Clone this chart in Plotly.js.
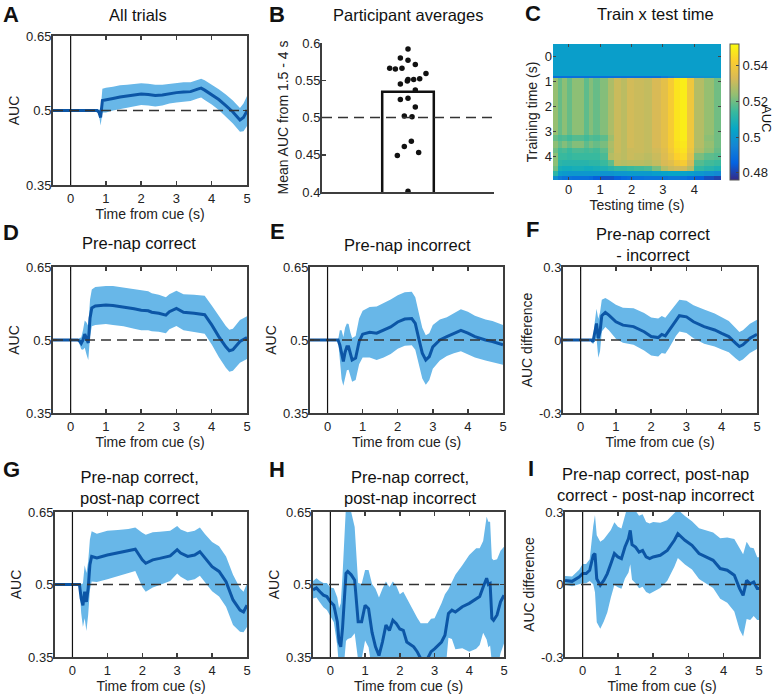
<!DOCTYPE html>
<html><head><meta charset="utf-8">
<script src="https://cdn.plot.ly/plotly-3.0.1.min.js"></script>
<style>html,body{margin:0;padding:0;background:#fff}#chart{width:775px;height:697px}</style>
</head><body><div id="chart"></div>
<script>
// ---------------- DATA ----------------
// Panel A: All trials
const tA = [-0.5,0.75,0.8,0.85,0.9,1.0,1.2,1.4,1.6,1.8,2.0,2.2,2.4,2.6,2.8,3.0,3.2,3.4,3.6,3.7,3.8,4.0,4.2,4.4,4.6,4.8,4.9,5.0];
const mA = [0.5,0.5,0.497,0.486,0.52,0.521,0.524,0.527,0.529,0.531,0.533,0.532,0.53,0.531,0.534,0.536,0.537,0.538,0.543,0.545,0.541,0.532,0.522,0.51,0.497,0.481,0.486,0.499];
const eA = [0,0,0.005,0.016,0.024,0.025,0.024,0.024,0.023,0.023,0.022,0.022,0.022,0.021,0.02,0.02,0.02,0.019,0.019,0.019,0.02,0.02,0.021,0.022,0.023,0.024,0.028,0.03];

// Panel B: participant averages
const barCategory = [1];
const barMean = [0.5345];
const dotX = [1.0,0.911,1.0,1.085,0.787,0.853,0.930,1.209,0.911,0.992,1.0,1.066,1.136,1.085,0.911,1.0,1.085,0.957,1.047,1.039,0.957,0.876,1.124,1.0];
const dotY = [0.592,0.580,0.577,0.571,0.566,0.565,0.566,0.559,0.545,0.549,0.551,0.551,0.552,0.537,0.524,0.526,0.514,0.502,0.501,0.468,0.461,0.449,0.453,0.401];

// Panel C: train x test time (cell edges + rows)
const testEdges = [-0.5,-0.35,-0.2,-0.05,0.12,0.5,0.65,0.77,1.0,1.24,1.45,1.65,1.87,2.08,2.4,2.65,2.93,3.15,3.35,3.55,3.78,4.0,4.3,4.62,4.85];
const trainEdges = [-0.5,0.76,0.86,3.12,3.38,3.65,3.85,4.12,4.38,4.58,4.78,4.92];
const rowPre    = [0.502,0.502,0.502,0.502,0.502,0.502,0.502,0.502,0.502,0.502,0.502,0.502,0.502,0.502,0.502,0.502,0.502,0.502,0.502,0.502,0.502,0.502,0.502,0.502];
const rowEdge   = [0.489,0.489,0.489,0.489,0.489,0.489,0.489,0.489,0.489,0.489,0.489,0.489,0.489,0.489,0.489,0.489,0.492,0.494,0.496,0.497,0.497,0.498,0.499,0.5];
const rowActive = [0.524,0.519,0.523,0.519,0.523,0.518,0.522,0.519,0.522,0.527,0.531,0.529,0.532,0.531,0.530,0.533,0.536,0.541,0.547,0.549,0.539,0.528,0.524,0.520];
const rowT32    = [0.519,0.516,0.517,0.515,0.517,0.515,0.517,0.516,0.518,0.525,0.531,0.529,0.532,0.531,0.530,0.533,0.536,0.541,0.547,0.549,0.539,0.528,0.523,0.520];
const rowT35    = [0.523,0.519,0.522,0.519,0.522,0.518,0.521,0.519,0.521,0.527,0.531,0.529,0.532,0.531,0.530,0.533,0.536,0.541,0.546,0.548,0.539,0.528,0.524,0.520];
const rowT37    = [0.520,0.515,0.516,0.514,0.516,0.515,0.516,0.515,0.518,0.526,0.531,0.529,0.531,0.531,0.530,0.532,0.535,0.540,0.545,0.547,0.538,0.527,0.523,0.519];
const rowT40    = [0.523,0.514,0.514,0.513,0.514,0.514,0.514,0.514,0.516,0.528,0.530,0.529,0.531,0.530,0.529,0.531,0.534,0.538,0.543,0.545,0.536,0.521,0.518,0.517];
const rowT42    = [0.523,0.512,0.511,0.511,0.511,0.511,0.512,0.512,0.514,0.518,0.529,0.528,0.529,0.529,0.528,0.530,0.533,0.535,0.539,0.541,0.533,0.517,0.515,0.514];
const rowT45    = [0.520,0.508,0.507,0.507,0.508,0.507,0.507,0.508,0.509,0.511,0.513,0.513,0.514,0.515,0.516,0.521,0.528,0.531,0.532,0.532,0.528,0.513,0.511,0.509];
const rowT47    = [0.512,0.502,0.501,0.5,0.5,0.5,0.5,0.5,0.499,0.499,0.5,0.5,0.501,0.501,0.501,0.502,0.503,0.504,0.504,0.503,0.502,0.5,0.498,0.496];
const rowT49    = [0.497,0.492,0.49,0.49,0.489,0.489,0.488,0.485,0.483,0.483,0.485,0.487,0.488,0.489,0.49,0.49,0.49,0.491,0.491,0.49,0.488,0.485,0.482,0.48];

// Panel D: pre-nap correct
const tD = [-0.5,0.2,0.25,0.3,0.35,0.4,0.45,0.5,0.55,0.6,0.7,0.8,1.0,1.2,1.5,1.8,2.0,2.2,2.3,2.5,2.7,2.8,3.0,3.2,3.5,3.8,4.0,4.2,4.4,4.5,4.6,4.8,5.0];
const mD = [0.5,0.5,0.498,0.493,0.5,0.512,0.503,0.494,0.545,0.566,0.57,0.571,0.572,0.571,0.568,0.564,0.561,0.56,0.557,0.555,0.551,0.558,0.565,0.557,0.555,0.552,0.531,0.507,0.486,0.478,0.48,0.497,0.505];
const eD = [0,0,0.006,0.012,0.02,0.028,0.033,0.035,0.038,0.038,0.039,0.039,0.039,0.04,0.04,0.041,0.041,0.04,0.039,0.038,0.037,0.036,0.036,0.037,0.038,0.039,0.04,0.042,0.043,0.043,0.043,0.044,0.044];

// Panel E: pre-nap incorrect
const tE = [-0.5,0.3,0.35,0.4,0.45,0.5,0.55,0.6,0.65,0.7,0.8,0.9,1.0,1.2,1.4,1.6,1.8,2.0,2.2,2.4,2.5,2.6,2.7,2.8,2.9,3.0,3.2,3.4,3.6,3.8,4.0,4.2,4.5,4.7,5.0];
const mE = [0.5,0.5,0.49,0.47,0.456,0.475,0.486,0.486,0.47,0.459,0.463,0.497,0.512,0.516,0.514,0.52,0.527,0.537,0.543,0.544,0.534,0.503,0.473,0.459,0.466,0.486,0.5,0.507,0.514,0.52,0.514,0.507,0.5,0.497,0.49];
const eE = [0,0,0.03,0.05,0.05,0.05,0.048,0.047,0.046,0.045,0.045,0.047,0.048,0.052,0.055,0.056,0.056,0.055,0.055,0.055,0.054,0.053,0.052,0.051,0.048,0.045,0.042,0.04,0.041,0.043,0.044,0.043,0.042,0.042,0.041];

// Panel F: pre-nap correct - incorrect
const tF = [-0.5,0.3,0.35,0.4,0.45,0.5,0.55,0.6,0.7,0.8,1.0,1.2,1.5,1.8,2.0,2.2,2.3,2.4,2.5,2.7,2.8,3.0,3.2,3.5,3.8,4.0,4.2,4.4,4.5,4.6,4.8,5.0];
const mF = [0,0,-0.007,0.034,0.068,0.007,0.034,0.1,0.113,0.102,0.075,0.061,0.055,0.034,0.014,0.01,0.023,0.017,0.037,0.082,0.1,0.095,0.075,0.055,0.041,0.027,0.014,-0.014,-0.027,-0.02,0.007,0.023];
const eF = [0,0,0.01,0.04,0.06,0.08,0.08,0.065,0.06,0.062,0.07,0.072,0.075,0.077,0.078,0.078,0.076,0.074,0.072,0.066,0.065,0.066,0.068,0.07,0.068,0.066,0.064,0.062,0.06,0.06,0.06,0.06];

// Panel G: pre-nap correct, post-nap correct
const tG = [-0.5,0.2,0.25,0.3,0.35,0.4,0.45,0.5,0.55,0.7,1.0,1.3,1.6,1.8,1.9,2.0,2.1,2.3,2.5,2.8,3.0,3.1,3.3,3.5,3.65,3.8,4.0,4.2,4.4,4.6,4.8,4.9,5.0];
const mG = [0.5,0.5,0.471,0.457,0.485,0.464,0.492,0.541,0.558,0.555,0.561,0.565,0.569,0.573,0.562,0.551,0.544,0.551,0.554,0.559,0.572,0.565,0.558,0.561,0.568,0.554,0.537,0.527,0.506,0.468,0.447,0.443,0.457];
const eG = [0,0,0.03,0.045,0.055,0.06,0.055,0.052,0.052,0.05,0.05,0.048,0.046,0.045,0.05,0.056,0.059,0.057,0.055,0.052,0.049,0.049,0.05,0.05,0.05,0.05,0.051,0.052,0.052,0.052,0.045,0.042,0.045];

// Panel H: pre-nap correct, post-nap incorrect
const tH = [-0.5,-0.4,-0.3,-0.2,-0.1,0,0.1,0.2,0.25,0.3,0.35,0.4,0.45,0.5,0.6,0.7,0.75,0.8,0.9,0.95,1.0,1.1,1.2,1.3,1.4,1.5,1.6,1.7,1.8,1.9,2.0,2.1,2.2,2.4,2.5,2.6,2.8,2.9,3.0,3.2,3.3,3.4,3.5,3.6,3.8,4.0,4.2,4.3,4.4,4.5,4.55,4.6,4.65,4.7,4.8,4.9,5.0];
const mH = [0.489,0.493,0.485,0.478,0.475,0.464,0.457,0.423,0.381,0.371,0.409,0.471,0.523,0.527,0.52,0.509,0.457,0.423,0.423,0.443,0.457,0.45,0.401,0.371,0.353,0.381,0.416,0.405,0.426,0.419,0.408,0.405,0.381,0.371,0.361,0.347,0.347,0.361,0.367,0.381,0.395,0.44,0.447,0.443,0.454,0.461,0.471,0.475,0.495,0.513,0.5,0.502,0.43,0.426,0.437,0.464,0.478];
const eH = [0.018,0.02,0.022,0.025,0.028,0.03,0.035,0.05,0.07,0.09,0.11,0.13,0.14,0.14,0.13,0.11,0.09,0.08,0.078,0.075,0.073,0.08,0.1,0.12,0.12,0.11,0.09,0.09,0.08,0.078,0.072,0.08,0.09,0.075,0.07,0.073,0.073,0.068,0.063,0.08,0.085,0.05,0.06,0.077,0.086,0.1,0.104,0.1,0.095,0.127,0.13,0.128,0.124,0.124,0.115,0.106,0.1];

// Panel I: post-nap correct - post-nap incorrect
const tI = [-0.5,-0.3,-0.1,0,0.1,0.2,0.3,0.35,0.4,0.5,0.6,0.7,0.8,0.9,1.0,1.1,1.2,1.3,1.35,1.4,1.5,1.6,1.7,1.8,1.9,2.0,2.2,2.4,2.6,2.7,2.9,3.1,3.3,3.5,3.7,3.9,4.1,4.3,4.45,4.55,4.65,4.75,4.85,4.95,5.0];
const mI = [0.017,0.013,0.031,0.045,0.045,0.059,0.121,0.128,0.024,-0.003,0.017,0.045,0.086,0.128,0.114,0.107,0.155,0.19,0.224,0.165,0.155,0.134,0.141,0.114,0.107,0.114,0.121,0.141,0.183,0.21,0.183,0.162,0.128,0.114,0.1,0.066,0.059,0.038,-0.017,-0.045,0.017,0.003,0.01,-0.017,-0.017];
const eI = [0.018,0.02,0.03,0.04,0.04,0.045,0.12,0.16,0.18,0.18,0.17,0.16,0.14,0.13,0.125,0.125,0.13,0.14,0.14,0.145,0.15,0.15,0.15,0.145,0.145,0.145,0.135,0.125,0.11,0.1,0.1,0.1,0.105,0.11,0.115,0.125,0.135,0.15,0.17,0.17,0.16,0.15,0.14,0.13,0.13];

// tick labels and reference levels
const timeTicks = [0,1,2,3,4,5];
const aucTicks = [0.35,0.5,0.65];
const aucTickText = ['0.35','0.5','0.65'];
const diffTicks = [-0.3,0,0.3];
const diffTickText = ['-0.3','0','0.3'];
const barTicks = [0.4,0.45,0.5,0.55,0.6];
const barTickText = ['0.4','0.45','0.5','0.55','0.6'];
const heatTicks = [0,1,2,3,4];
const cbTicks = [0.48,0.5,0.52,0.54];
const cbTickText = ['0.48','0.5','0.52','0.54'];
const cueTime = 0;
const chanceAUC = 0.5;
const chanceDiff = 0;

// ---------------- LAYOUT HELPERS ----------------
const W = 775, H = 697;
const FONT = 'Liberation Sans, Arial, Helvetica, sans-serif';
const FILL = 'rgb(104,183,232)';
const LINE = 'rgb(12,86,166)';
const FRAME = '#3d3d3d';
const TICKFONT = 13, AXTITLE = 14, TITLE = 16.5, YLABSHIFT = -3;
function xd(a,b){return [a/W,b/W];}
function yd(top,bot){return [1-bot/H,1-top/H];}

const traces = [];
const layout = {
  width: W, height: H, margin:{l:0,r:0,t:0,b:0},
  paper_bgcolor:'#fff', plot_bgcolor:'#fff',
  font:{family:FONT,size:12.5,color:'#222'},
  showlegend:false, shapes:[], annotations:[]
};

function timePanel(n, box, t, m, e, yr, ytv, ytt, ytitle, chance){
  const xa = 'x'+(n===1?'':n), ya = 'y'+(n===1?'':n);
  const lo = t.map((v,i)=>m[i]-e[i]);
  const hi = t.map((v,i)=>m[i]+e[i]);
  traces.push({x:t,y:lo,type:'scatter',mode:'lines',line:{width:0,color:FILL},xaxis:xa,yaxis:ya,hoverinfo:'skip'});
  traces.push({x:t,y:hi,type:'scatter',mode:'lines',line:{width:0,color:FILL},fill:'tonexty',fillcolor:FILL,xaxis:xa,yaxis:ya,hoverinfo:'skip'});
  traces.push({x:t,y:m,type:'scatter',mode:'lines',line:{width:3,color:LINE},xaxis:xa,yaxis:ya});
  const axn = (n===1?'':n);
  layout['xaxis'+axn] = {domain:xd(box[0],box[1]),anchor:ya,range:[-0.5,5],tickvals:timeTicks,
    ticks:'inside',ticklen:4,tickwidth:1.5,tickcolor:FRAME,showline:true,mirror:'ticks',linecolor:FRAME,linewidth:2,
    showgrid:false,zeroline:false,tickfont:{size:TICKFONT},
    title:{text:'Time from cue (s)',font:{size:AXTITLE},standoff:3}};
  layout['yaxis'+axn] = {domain:yd(box[2],box[3]),anchor:xa,range:yr,tickvals:ytv,ticktext:ytt,
    ticks:'inside',ticklen:4,tickwidth:1.5,tickcolor:FRAME,showline:true,mirror:'ticks',linecolor:FRAME,linewidth:2,
    showgrid:false,zeroline:false,tickfont:{size:TICKFONT},ticklabelstandoff:YLABSHIFT,
    title:{text:ytitle,font:{size:AXTITLE},standoff:3}};
  layout.shapes.push({type:'line',xref:xa,yref:ya+' domain',x0:cueTime,x1:cueTime,y0:0,y1:1,line:{color:'#111',width:1.2},layer:'above'});
  layout.shapes.push({type:'line',xref:xa+' domain',yref:ya,x0:0,x1:1,y0:chance,y1:chance,line:{color:'#333',width:1.5,dash:'10px,6px'},layer:'above'});
}

timePanel(1,[53,247,36,185],tA,mA,eA,[0.35,0.65],aucTicks,aucTickText,'AUC',chanceAUC);
timePanel(4,[53,247,267,413],tD,mD,eD,[0.35,0.65],aucTicks,aucTickText,'AUC',chanceAUC);
timePanel(5,[310,503,267,413],tE,mE,eE,[0.35,0.65],aucTicks,aucTickText,'AUC',chanceAUC);
timePanel(6,[563,757,267,413],tF,mF,eF,[-0.3,0.3],diffTicks,diffTickText,'AUC difference',chanceDiff);
timePanel(7,[55,247,512,657],tG,mG,eG,[0.35,0.65],aucTicks,aucTickText,'AUC',chanceAUC);
timePanel(8,[313,504,512,657],tH,mH,eH,[0.35,0.65],aucTicks,aucTickText,'AUC',chanceAUC);
timePanel(9,[565,759,512,657],tI,mI,eI,[-0.3,0.3],diffTicks,diffTickText,'AUC difference',chanceDiff);

// Panel B
traces.push({x:barCategory,y:barMean,type:'bar',width:0.6,marker:{color:'#fff',line:{color:'#111',width:2.5}},xaxis:'x2',yaxis:'y2'});
traces.push({x:dotX,y:dotY,type:'scatter',mode:'markers',marker:{color:'#111',size:5.5},xaxis:'x2',yaxis:'y2',cliponaxis:false});
layout.xaxis2 = {domain:xd(322,494),anchor:'y2',range:[0,2],showticklabels:false,ticks:'',showline:true,linecolor:FRAME,linewidth:2,showgrid:false,zeroline:false};
layout.yaxis2 = {domain:yd(43,192),anchor:'x2',range:[0.4,0.6],tickvals:barTicks,ticktext:barTickText,ticks:'inside',ticklen:4,tickwidth:1.5,tickcolor:FRAME,
  showline:true,linecolor:FRAME,linewidth:2,showgrid:false,zeroline:false,tickfont:{size:TICKFONT},ticklabelstandoff:YLABSHIFT,
  title:{text:'Mean AUC from 1.5 - 4 s',font:{size:AXTITLE},standoff:3}};
layout.shapes.push({type:'line',xref:'x2 domain',yref:'y2',x0:0,x1:1,y0:chanceAUC,y1:chanceAUC,line:{color:'#333',width:1.5,dash:'10px,6px'},layer:'above'});

// Panel C
const parula = [[0,'#352a87'],[0.125,'#0363e1'],[0.25,'#1485d4'],[0.375,'#06a7c6'],[0.5,'#38b99e'],[0.625,'#92bf73'],[0.75,'#d9ba56'],[0.875,'#fcce2e'],[1,'#f9fb0e']];
traces.push({type:'heatmap',x:testEdges,y:trainEdges,
  z:[rowPre,rowEdge,rowActive,rowT32,rowT35,rowT37,rowT40,rowT42,rowT45,rowT47,rowT49],
  colorscale:parula,zmin:0.476,zmax:0.552,xaxis:'x3',yaxis:'y3',
  colorbar:{x:730/W,xanchor:'left',xpad:0,ypad:0,y:1-112/H,yanchor:'middle',len:136,lenmode:'pixels',thickness:9,thicknessmode:'pixels',
    tickvals:cbTicks,ticktext:cbTickText,ticks:'inside',ticklen:3,tickcolor:'#444',outlinewidth:1,outlinecolor:'#555',tickfont:{size:TICKFONT}}});
layout.xaxis3 = {domain:xd(553,721),anchor:'y3',range:[-0.5,4.85],tickvals:heatTicks,ticks:'inside',ticklen:3,tickcolor:'#444',showline:false,showgrid:false,zeroline:false,mirror:'ticks',
  tickfont:{size:TICKFONT},title:{text:'Testing time (s)',font:{size:AXTITLE},standoff:3}};
layout.yaxis3 = {domain:yd(44,180),anchor:'x3',range:[4.92,-0.5],tickvals:heatTicks,ticks:'inside',ticklen:3,tickcolor:'#444',showline:false,showgrid:false,zeroline:false,mirror:'ticks',
  tickfont:{size:TICKFONT},title:{text:'Training time (s)',font:{size:AXTITLE},standoff:3}};

// Titles and panel letters
function ann(text,x,y,size,bold,angle){
  layout.annotations.push({text:bold?'<b>'+text+'</b>':text,xref:'paper',yref:'paper',x:x/W,y:1-y/H,xanchor:'center',yanchor:'middle',showarrow:false,
    font:{size:size,family:FONT,color:'#111'},textangle:angle||0});
}
ann('All trials',138,15,TITLE);
ann('Participant averages',408,15,TITLE);
ann('Train x test time',655,14,TITLE);
ann('Pre-nap correct',139,243,TITLE);
ann('Pre-nap incorrect',407,245,TITLE);
ann('Pre-nap correct<br>- incorrect',653,244,TITLE);
ann('Pre-nap correct,<br>post-nap correct',140,487,TITLE);
ann('Pre-nap correct,<br>post-nap incorrect',410,487,TITLE);
ann('Pre-nap correct, post-nap<br>correct - post-nap incorrect',656,484,TITLE);
ann('A',11,14,22,true); ann('B',277,14,22,true); ann('C',533,13,22,true);
ann('D',11,233,22,true); ann('E',277,231,22,true); ann('F',532,229,22,true);
ann('G',11,469,22,true); ann('H',277,469,22,true); ann('I',531,468,22,true);
ann('AUC',767,118,13,false,90);

Plotly.newPlot('chart',traces,layout,{displayModeBar:false,staticPlot:true});
</script></body></html>
